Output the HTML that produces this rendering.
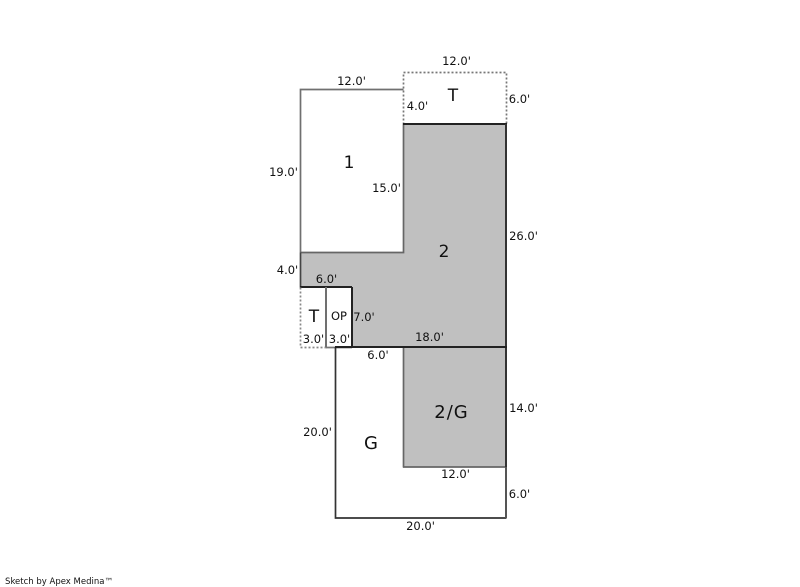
<!DOCTYPE html>
<html>
<head>
<meta charset="utf-8">
<title>Sketch</title>
<style>
html,body{margin:0;padding:0;background:#fff;width:800px;height:587px;overflow:hidden}
svg{display:block}
text{font-family:"DejaVu Sans","Liberation Sans",sans-serif;fill:#111;text-anchor:middle}
.d{font-size:11.5px}
.l{font-size:17px}
</style>
</head>
<body>
<svg width="800" height="587" viewBox="0 0 800 587" xmlns="http://www.w3.org/2000/svg">
<rect width="800" height="587" fill="#fff"/>
<g fill="none" stroke-width="1.7">
<polygon points="403.5,124.5 506.5,124.5 506.5,347.5 352.5,347.5 352.5,287.5 300.5,287.5 300.5,252.5 403.5,252.5" fill="#c0c0c0" stroke="none"/>
<rect x="403.5" y="347.5" width="103" height="120" fill="#c0c0c0" stroke="none"/>
<polyline points="300.5,252.5 300.5,89.5 403.5,89.5" stroke="#707070"/>
<polyline points="300.5,252.5 403.5,252.5 403.5,124.5" stroke="#666"/>
<polyline points="403.5,124.5 403.5,72.5 506.5,72.5 506.5,124.5" stroke="#777" stroke-dasharray="2 2"/>
<line x1="403" y1="124" x2="507" y2="124" stroke="#222" stroke-width="2"/>
<line x1="506" y1="124" x2="506" y2="347" stroke="#333" stroke-width="2"/>
<polyline points="300.5,252.5 300.5,287.5" stroke="#444"/>
<line x1="300" y1="287" x2="352" y2="287" stroke="#222" stroke-width="2"/>
<line x1="352" y1="287" x2="352" y2="347" stroke="#222" stroke-width="2"/>
<polyline points="300.5,287.5 300.5,347.5 326.5,347.5" stroke="#888" stroke-dasharray="2 2"/>
<line x1="326" y1="287" x2="326" y2="347" stroke="#707070" stroke-width="2"/>
<line x1="326" y1="347.5" x2="352" y2="347.5" stroke="#777"/>
<polyline points="335.5,347 335.5,518 506.5,518" stroke="#333"/>
<line x1="403.5" y1="347" x2="403.5" y2="467.5" stroke="#666"/>
<line x1="403" y1="467" x2="506" y2="467" stroke="#666"/>
<line x1="506" y1="347" x2="506" y2="467" stroke="#333" stroke-width="2"/>
<line x1="506" y1="467" x2="506" y2="518" stroke="#555" stroke-width="2"/>
<line x1="335" y1="347" x2="507" y2="347" stroke="#222" stroke-width="2"/>
</g>
<text class="l" x="349" y="168">1</text>
<text class="l" x="453" y="101">T</text>
<text class="l" x="444" y="257">2</text>
<text class="l" x="314" y="322">T</text>
<text class="d" x="339" y="320">OP</text>
<text class="l" x="451.5" y="418" style="font-size:18px;letter-spacing:1px">2/G</text>
<text class="l" x="371" y="449" style="font-size:18px">G</text>
<text class="d" x="351.5" y="85">12.0'</text>
<text class="d" x="456.5" y="65">12.0'</text>
<text class="d" x="417.5" y="110">4.0'</text>
<text class="d" x="519.5" y="103">6.0'</text>
<text class="d" x="283.5" y="176">19.0'</text>
<text class="d" x="386.5" y="192">15.0'</text>
<text class="d" x="523.5" y="240">26.0'</text>
<text class="d" x="287.5" y="274">4.0'</text>
<text class="d" x="326.5" y="283">6.0'</text>
<text class="d" x="364" y="321">7.0'</text>
<text class="d" x="313.5" y="343">3.0'</text>
<text class="d" x="339.5" y="343">3.0'</text>
<text class="d" x="429.5" y="341">18.0'</text>
<text class="d" x="378" y="359">6.0'</text>
<text class="d" x="523.5" y="412">14.0'</text>
<text class="d" x="317.5" y="436">20.0'</text>
<text class="d" x="455.5" y="478">12.0'</text>
<text class="d" x="519.5" y="498">6.0'</text>
<text class="d" x="420.5" y="530">20.0'</text>
<text x="59" y="584" style="font-size:8.5px">Sketch by Apex Medina™</text>
</svg>
</body>
</html>
